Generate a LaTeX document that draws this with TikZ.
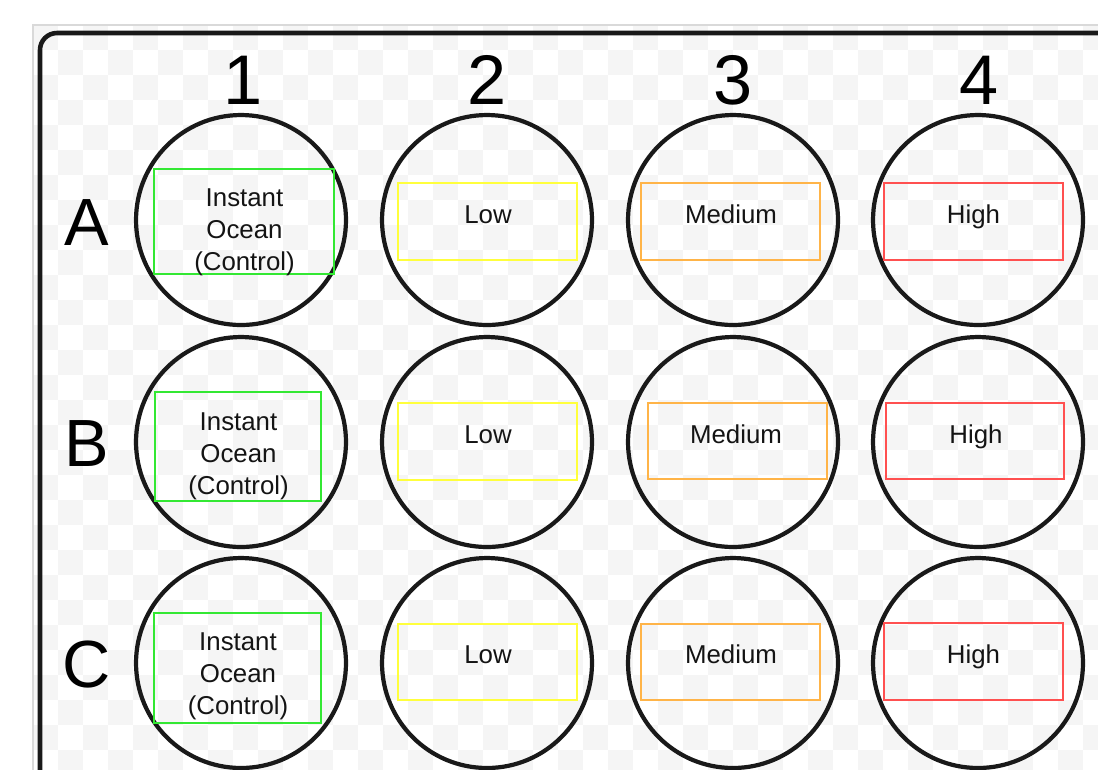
\documentclass[tikz,border=0pt]{standalone}
\usepackage{fontspec}
\setmainfont{Liberation Sans}
\definecolor{CtrlGreen}{RGB}{51,232,51}
\definecolor{LowYellow}{RGB}{255,255,60}
\definecolor{MedOrange}{RGB}{255,180,72}
\definecolor{HighRed}{RGB}{255,80,80}
\begin{document}
\begin{tikzpicture}[x=0.02cm,y=-0.02cm,
  well/.style={circle,draw=black!90,line width=2.4pt,minimum size=4.2cm,inner sep=0pt},
  box/.style={draw=#1,line width=0.8pt},
  lbl/.style={font=\fontsize{14.7}{18.1}\selectfont,text=black!92,align=center,inner sep=0pt},
  colno/.style={font=\fontsize{40}{48}\selectfont,inner sep=0pt,anchor=base},
  rowno/.style={font=\fontsize{38}{46}\selectfont,inner sep=0pt,anchor=base}
]
  \useasboundingbox (0,0) rectangle (1098,769);
  \clip (0,0) rectangle (1098,769);
  \foreach \i in {0,2,...,42}
    \foreach \j in {0,2,...,28} {
      \fill[black!4] (33+25*\i,25+25*\j) rectangle +(25,25);
      \fill[black!4] (58+25*\i,50+25*\j) rectangle +(25,25);
    }
  \draw[black!15,line width=0.6pt] (33,800) -- (33,25) -- (1120,25);
  \draw[black!90,line width=2.6pt,rounded corners=0.34cm] (40,800) -- (40,33) -- (1120,33);

  \node[colno] (c1) at (243,104) {1};
  \node[colno] (c2) at (487,104) {2};
  \node[colno] (c3) at (733,104) {3};
  \node[colno] (c4) at (979,104) {4};
  \node[rowno] (rA) at (87,245) {A};
  \node[rowno] (rB) at (87,466) {B};
  \node[rowno] (rC) at (87,687) {C};

  \node[well] (wA1) at (241,220) {};
  \node[well] (wA2) at (487,220) {};
  \node[well] (wA3) at (733,220) {};
  \node[well] (wA4) at (978,220) {};
  \node[well] (wB1) at (241,442) {};
  \node[well] (wB2) at (487,442) {};
  \node[well] (wB3) at (733,442) {};
  \node[well] (wB4) at (978,442) {};
  \node[well] (wC1) at (241,663) {};
  \node[well] (wC2) at (487,663) {};
  \node[well] (wC3) at (733,663) {};
  \node[well] (wC4) at (978,663) {};

  \draw[box=CtrlGreen] (154,169) rectangle (334,274);
  \draw[box=LowYellow] (398,183) rectangle (577,260);
  \draw[box=MedOrange] (641,183) rectangle (820,260);
  \draw[box=HighRed] (884,183) rectangle (1063,260);
  \draw[box=CtrlGreen] (155,392) rectangle (321,501);
  \draw[box=LowYellow] (398,403) rectangle (577,480);
  \draw[box=MedOrange] (648,403) rectangle (827,479);
  \draw[box=HighRed] (886,403) rectangle (1064,479);
  \draw[box=CtrlGreen] (154,613) rectangle (321,723);
  \draw[box=LowYellow] (398,624) rectangle (577,700);
  \draw[box=MedOrange] (641,624) rectangle (820,700);
  \draw[box=HighRed] (884,623) rectangle (1063,700);

  \node[lbl] (tA1) at (244.5,232.5) {Instant\\Ocean\\(Control)};
  \node[lbl,anchor=base] (tA2) at (488,223) {Low};
  \node[lbl,anchor=base] (tA3) at (731,223) {Medium};
  \node[lbl,anchor=base] (tA4) at (973.5,223) {High};
  \node[lbl] (tB1) at (238.5,456) {Instant\\Ocean\\(Control)};
  \node[lbl,anchor=base] (tB2) at (488,443) {Low};
  \node[lbl,anchor=base] (tB3) at (736,443) {Medium};
  \node[lbl,anchor=base] (tB4) at (976,443) {High};
  \node[lbl] (tC1) at (238,676) {Instant\\Ocean\\(Control)};
  \node[lbl,anchor=base] (tC2) at (488,663) {Low};
  \node[lbl,anchor=base] (tC3) at (731,663) {Medium};
  \node[lbl,anchor=base] (tC4) at (973.5,663) {High};
\end{tikzpicture}
\end{document}
